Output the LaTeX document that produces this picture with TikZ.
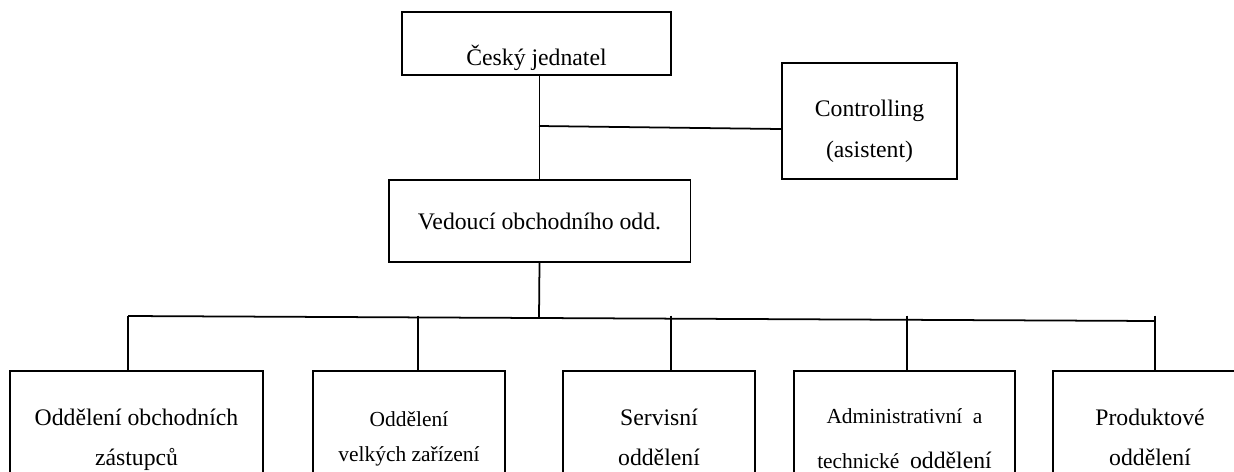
\documentclass[tikz,border=0pt]{standalone}
\usepackage{fontspec}
\setmainfont{Liberation Serif}
\usetikzlibrary{positioning,calc}

\begin{document}
\begin{tikzpicture}[x=0.02cm, y=-0.02cm, line width=1pt]
\tikzset{b/.style={draw=black, line width=1.1pt, align=center, inner sep=0pt, font=\fontsize{13.5}{22.8}\selectfont}, unit/.style={b, minimum height=2.64cm}, smallunit/.style={unit, font=\fontsize{12.2}{19.9}\selectfont}}
\useasboundingbox (0,0) rectangle (1234,471);
\clip (0,0) rectangle (1234,471);
\node[b, minimum width=5.38cm, text height=1.06cm, text depth=0.2cm] (boss) at (536.5,43.5) {Český jednatel};
\node[b, minimum width=3.5cm, minimum height=2.32cm, text height=1.88cm, text depth=0.44cm] (ctrl) at (869.5,121) {Controlling\\(asistent)};
\node[b, minimum width=6.04cm, minimum height=1.64cm] (head) at (539.5,221) {Vedoucí obchodního odd.};
\node[unit, minimum width=5.06cm, minimum height=2.74cm] (sales) at (136.5,439.4) {Oddělení obchodních\\zástupců};
\node[smallunit, minimum width=3.84cm, minimum height=2.72cm] (large) at (409,439.1) {Oddělení\\velkých zařízení};
\node[unit, minimum width=3.84cm] (service) at (659,437) {Servisní\\oddělení};
\node[smallunit, minimum width=4.42cm, minimum height=2.7cm, font=\fontsize{12.2}{25.6}\selectfont] (admin) at (904.5,438.5) {Administrativní\ \ a\\technické\ \ {\fontsize{13.5}{25.6}\selectfont oddělení}};
\node[unit, minimum width=3.88cm] (product) at (1150,437) {Produktové\\oddělení};
\coordinate (cj) at (539,126);
\coordinate (busM) at (539,318);
\coordinate (busL) at (128,316);
\coordinate (busR) at (1155,321);
\draw (head.north) -- (head.north |- boss.south);
\draw (cj) -- ([yshift=-0.16cm]ctrl.west);
\draw (head.south) -- (busM);
\draw (busL) -- (busR);
\foreach \x/\n in {128/sales,418/large,671/service,907/admin,1155/product} {\coordinate (t\n) at (\x,315.5); \draw (t\n) -- (t\n |- \n.north);}
\end{tikzpicture}
\end{document}
